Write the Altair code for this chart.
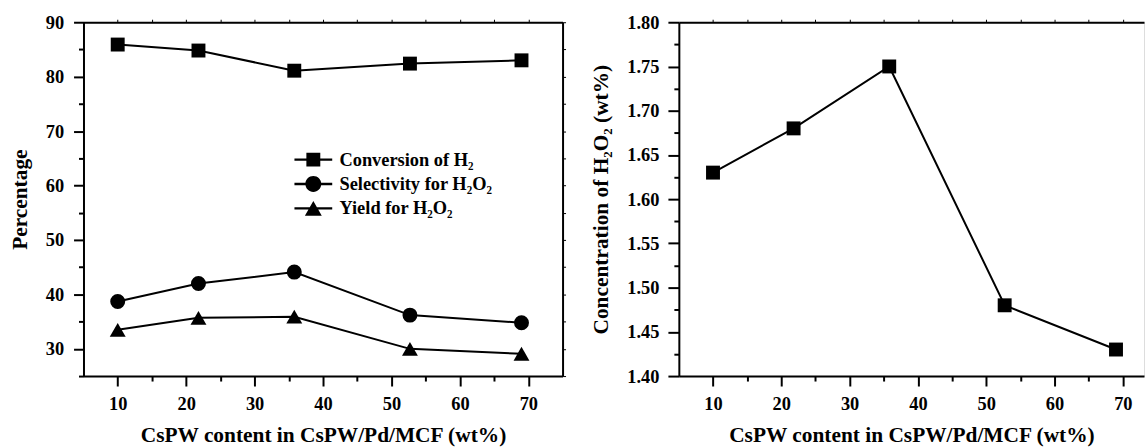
import altair as alt
import pandas as pd

# ---------------- data ----------------
cspw = [10, 21.8, 35.8, 52.7, 69]
conversion = [85.9, 84.8, 81.1, 82.4, 83.0]
selectivity = [38.7, 42.0, 44.1, 36.2, 34.8]
yield_h2o2 = [33.5, 35.7, 35.9, 30.0, 29.1]
concentration = [1.63, 1.68, 1.75, 1.48, 1.43]
series_names = ["Conversion of H₂", "Selectivity for H₂O₂", "Yield for H₂O₂"]

x_title = "CsPW content in CsPW/Pd/MCF (wt%)"
left_y_title = "Percentage"
right_y_title = "Concentration of H₂O₂ (wt%)"

FONT = "Liberation Serif"

rows = []
for name, vals in zip(series_names, [conversion, selectivity, yield_h2o2]):
    for xv, yv in zip(cspw, vals):
        rows.append({"x": xv, "y": yv, "series": name})
df_left = pd.DataFrame(rows)
df_right = pd.DataFrame({"x": cspw, "y": concentration})

x_ticks = [10 + 5 * i for i in range(13)]            # 10 .. 70
y_ticks_left = [25 + 5 * i for i in range(14)]       # 25 .. 90
y_ticks_right = [round(1.40 + 0.025 * i, 3) for i in range(17)]  # 1.40 .. 1.80

common_axis = dict(
    grid=False, domainColor="black", domainWidth=2, tickColor="black", tickWidth=2,
    labelColor="black", labelFont=FONT, labelFontSize=18.5, labelFontWeight="bold",
    titleColor="black", titleFont=FONT, titleFontSize=21.5, titleFontWeight="bold",
    labelOverlap=False, labelFlush=False,
)

def x_axis():
    return alt.Axis(
        values=x_ticks, title=x_title,
        labelExpr="datum.value % 10 === 0 ? datum.label : ''",
        tickSize={"condition": {"test": "datum.value % 10 === 0", "value": 10}, "value": 5},
        labelPadding=9, titlePadding=11, **common_axis)

def mirror_axis(orient, values):
    return alt.Axis(orient=orient, values=values, labels=False, title=None, tickSize=3,
                    grid=False, domainColor="black", domainWidth=2, tickColor="black", tickWidth=1)

# ---------------- left panel ----------------
xs_l = alt.Scale(domain=[5, 75], nice=False, zero=False)
ys_l = alt.Scale(domain=[25, 90], nice=False, zero=False)

left_y_axis = alt.Axis(
    values=y_ticks_left, title=left_y_title,
    labelExpr="datum.value % 10 === 0 ? datum.label : ''",
    tickSize={"condition": {"test": "datum.value % 10 === 0", "value": 10}, "value": 5},
    labelPadding=10, titlePadding=14, **common_axis)

base_l = alt.Chart(df_left)

lines_l = base_l.mark_line(color="black", strokeWidth=2).encode(
    x=alt.X("x:Q", scale=xs_l, axis=x_axis()),
    y=alt.Y("y:Q", scale=ys_l, axis=left_y_axis),
    detail="series:N",
)

points_l = base_l.mark_point(filled=True, color="black", opacity=1).encode(
    x=alt.X("x:Q", scale=xs_l, axis=None),
    y=alt.Y("y:Q", scale=ys_l, axis=None),
    shape=alt.Shape("series:N", scale=alt.Scale(domain=series_names,
                    range=["square", "circle", "triangle-up"]), legend=None),
    size=alt.Size("series:N", scale=alt.Scale(domain=series_names, range=[196, 256, 289]),
                  legend=None),
)

# legend glyphs: a short line segment (thin filled bar) plus the marker
LINE = "M-4.75,-0.3H4.75V0.3H-4.75Z"
legend_paths = [
    LINE + "M-1.75,-1.75H1.75V1.75H-1.75Z",
    LINE + "M2,0A2,2 0 1 1 -2,0A2,2 0 1 1 2,0Z",
    LINE + "M0,-1.875L2.125,1.875H-2.125Z",
]

legend_l = base_l.transform_filter("false").mark_point(
    filled=True, color="black", opacity=1
).encode(
    shape=alt.Shape("series:N", scale=alt.Scale(domain=series_names, range=legend_paths),
                    legend=alt.Legend(
                        orient="none", legendX=222, legendY=129, title=None, padding=0,
                        labelFont=FONT, labelFontSize=18.5, labelFontWeight="bold",
                        labelColor="black", labelOffset=17, labelLimit=400,
                        symbolSize=64, rowPadding=5.5, symbolFillColor="black",
                        symbolStrokeWidth=0, symbolOpacity=1)),
)

mirror_l = base_l.mark_point(opacity=0).encode(
    x=alt.X("x:Q", scale=xs_l, axis=mirror_axis("top", x_ticks)),
    y=alt.Y("y:Q", scale=ys_l, axis=mirror_axis("right", y_ticks_left)),
)

left = alt.layer(lines_l, points_l, legend_l, mirror_l).resolve_scale(
    shape="independent", size="independent"
).resolve_axis(x="independent", y="independent").properties(width=482, height=356)

# ---------------- right panel ----------------
xs_r = alt.Scale(domain=[5, 73.1], nice=False, zero=False)
ys_r = alt.Scale(domain=[1.40, 1.80], nice=False, zero=False)

right_y_axis = alt.Axis(
    values=y_ticks_right, title=right_y_title,
    labelExpr="round(datum.value * 1000) % 50 === 0 ? format(datum.value, '.2f') : ''",
    tickSize={"condition": {"test": "round(datum.value * 1000) % 50 === 0", "value": 11},
              "value": 5},
    labelPadding=9, titlePadding=14, **common_axis)

base_r = alt.Chart(df_right)

line_r = base_r.mark_line(color="black", strokeWidth=2).encode(
    x=alt.X("x:Q", scale=xs_r, axis=x_axis()),
    y=alt.Y("y:Q", scale=ys_r, axis=right_y_axis),
)
points_r = base_r.mark_point(filled=True, color="black", opacity=1, shape="square",
                             size=196).encode(
    x=alt.X("x:Q", scale=xs_r, axis=None),
    y=alt.Y("y:Q", scale=ys_r, axis=None),
)
mirror_r = base_r.mark_point(opacity=0).encode(
    x=alt.X("x:Q", scale=xs_r, axis=mirror_axis("top", x_ticks)),
)

right = alt.layer(line_r, points_r, mirror_r).resolve_axis(
    x="independent", y="independent"
).properties(width=468, height=356)

chart = alt.hconcat(left, right, spacing=24).properties(
    padding={"left": 9, "top": 11, "right": 0, "bottom": 0}
).configure_view(stroke=None).configure(background="white")

chart.save("out.html", embed_options={"renderer": "svg", "actions": False})
